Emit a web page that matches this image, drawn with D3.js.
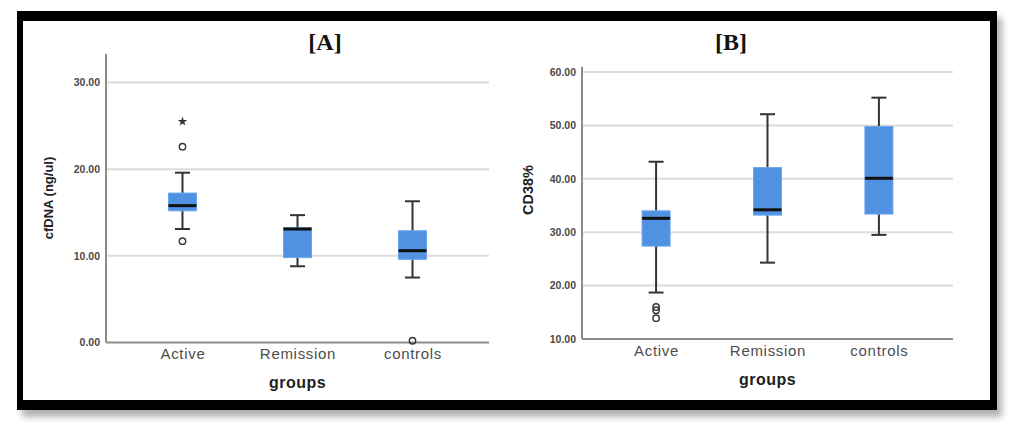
<!DOCTYPE html>
<html>

<head>
    <meta charset='utf-8'>
    <title>cfDNA and CD38% by group</title>
    <script src='https://d3js.org/d3.v7.min.js'></script>
    <style>
        body { margin: 0; background: #fff; }
    </style>
</head>

<body>
    <script>
        // groups on the x axis (same for both panels)
        const groups = ['Active', 'Remission', 'controls'];

        // [A] cfDNA (ng/ul): lower whisker, Q1, median, Q3, upper whisker
        const cfdnaBoxes = [
            [13.1, 15.2, 15.8, 17.25, 19.6],
            [8.8, 9.8, 13.1, 13.25, 14.7],
            [7.5, 9.6, 10.6, 12.9, 16.3]
        ];
        const cfdnaOutliers = [[22.6, 11.7], [], [0.2]];
        const cfdnaExtremes = [[25.5], [], []];
        const cfdnaTicks = [0, 10, 20, 30];

        // [B] CD38%
        const cd38Boxes = [
            [18.7, 27.4, 32.6, 34.0, 43.2],
            [24.3, 33.2, 34.2, 42.1, 52.1],
            [29.5, 33.4, 40.1, 49.8, 55.2]
        ];
        const cd38Outliers = [[16.0, 15.4, 13.9], [], []];
        const cd38Extremes = [[], [], []];
        const cd38Ticks = [10, 20, 30, 40, 50, 60];

        const W = 1024, H = 442;

        const svg = d3.select('body')
            .append('svg')
            .attr('width', W)
            .attr('height', H);

        // soft shadow under the frame
        const defs = svg.append('defs');
        const f = defs.append('filter')
            .attr('id', 'shadow')
            .attr('x', '-5%').attr('y', '-5%')
            .attr('width', '115%').attr('height', '120%');
        f.append('feDropShadow')
            .attr('dx', 5).attr('dy', 7)
            .attr('stdDeviation', 3)
            .attr('flood-color', '#000')
            .attr('flood-opacity', 0.3);

        // black frame
        svg.append('rect')
            .attr('x', 17).attr('y', 11)
            .attr('width', 980).attr('height', 399)
            .attr('fill', '#000')
            .attr('filter', 'url(#shadow)');
        svg.append('rect')
            .attr('x', 23).attr('y', 21)
            .attr('width', 967).attr('height', 379)
            .attr('fill', '#fff');

        function drawPanel(opt) {
            const g = svg.append('g');

            const x = d3.scalePoint()
                .domain(groups)
                .range([opt.left, opt.right])
                .padding(0.665);

            const y = d3.scaleLinear()
                .domain(opt.domain)
                .range([opt.bottom, opt.top]);

            // gridlines
            g.selectAll('.grid')
                .data(opt.ticks.filter(t => t !== opt.domain[0]))
                .enter()
                .append('line')
                .attr('class', 'grid')
                .attr('x1', opt.left)
                .attr('x2', opt.right)
                .attr('y1', d => y(d))
                .attr('y2', d => y(d))
                .attr('stroke', '#dcdcdc')
                .attr('stroke-width', 2);

            // y axis labels
            const ya = g.append('g')
                .attr('transform', 'translate(' + opt.left + ',0)')
                .call(d3.axisLeft(y).tickValues(opt.ticks).tickFormat(d3.format('.2f')).tickSize(0).tickPadding(6));
            ya.select('.domain').remove();
            ya.selectAll('text')
                .attr('font-family', 'Liberation Sans, Arial, sans-serif')
                .attr('font-size', '10.5px')
                .attr('font-weight', 'bold')
                .attr('fill', '#4a4a4a');

            // x axis labels
            const xa = g.append('g')
                .attr('transform', 'translate(0,' + opt.bottom + ')')
                .call(d3.axisBottom(x).tickSize(0).tickPadding(6));
            xa.select('.domain').remove();
            xa.selectAll('text')
                .attr('font-family', 'Liberation Sans, Arial, sans-serif')
                .attr('font-size', '15px')
                .attr('letter-spacing', '0.7px')
                .attr('fill', '#4d4d4d');

            // axis lines
            g.append('line')
                .attr('x1', opt.left).attr('x2', opt.left)
                .attr('y1', opt.axisTop).attr('y2', opt.bottom)
                .attr('stroke', '#8c8c8c').attr('stroke-width', 2);
            g.append('line')
                .attr('x1', opt.left).attr('x2', opt.right)
                .attr('y1', opt.bottom).attr('y2', opt.bottom)
                .attr('stroke', '#8c8c8c').attr('stroke-width', 2);

            const boxW = 28, capW = 15;

            opt.boxes.forEach((b, i) => {
                const cx = x(groups[i]);
                const bg = g.append('g');

                // whiskers
                bg.append('line')
                    .attr('x1', cx).attr('x2', cx)
                    .attr('y1', y(b[0])).attr('y2', y(b[4]))
                    .attr('stroke', '#333').attr('stroke-width', 2);
                [b[0], b[4]].forEach(v => {
                    bg.append('line')
                        .attr('x1', cx - capW / 2).attr('x2', cx + capW / 2)
                        .attr('y1', y(v)).attr('y2', y(v))
                        .attr('stroke', '#333').attr('stroke-width', 2);
                });

                // box
                bg.append('rect')
                    .attr('x', cx - boxW / 2)
                    .attr('y', y(b[3]))
                    .attr('width', boxW)
                    .attr('height', y(b[1]) - y(b[3]))
                    .attr('fill', '#5092e1')
                    .attr('stroke', '#6aa6ec')
                    .attr('stroke-width', 1);

                // median
                bg.append('line')
                    .attr('x1', cx - boxW / 2).attr('x2', cx + boxW / 2)
                    .attr('y1', y(b[2])).attr('y2', y(b[2]))
                    .attr('stroke', '#111').attr('stroke-width', 3);

                // outliers
                bg.selectAll('.out')
                    .data(opt.outliers[i])
                    .enter()
                    .append('circle')
                    .attr('class', 'out')
                    .attr('cx', cx)
                    .attr('cy', d => y(d))
                    .attr('r', 3.2)
                    .attr('fill', 'none')
                    .attr('stroke', '#333')
                    .attr('stroke-width', 1.4);

                // extremes
                bg.selectAll('.ext')
                    .data(opt.extremes[i])
                    .enter()
                    .append('path')
                    .attr('class', 'ext')
                    .attr('transform', d => 'translate(' + cx + ',' + y(d) + ')')
                    .attr('d', d3.symbol().type(d3.symbolStar).size(28))
                    .attr('fill', '#333');
            });

            // title
            g.append('text')
                .attr('x', opt.titleX)
                .attr('y', 50)
                .attr('text-anchor', 'middle')
                .attr('font-family', 'Liberation Serif, Times New Roman, serif')
                .attr('font-weight', 'bold')
                .attr('font-size', '24px')
                .attr('fill', '#111')
                .text(opt.title);

            // y label
            g.append('text')
                .attr('transform', 'translate(' + opt.yLabelX + ',' + opt.yLabelY + ') rotate(-90)')
                .attr('text-anchor', 'middle')
                .attr('font-family', 'Liberation Sans, Arial, sans-serif')
                .attr('font-weight', 'bold')
                .attr('font-size', opt.yLabelSize)
                .attr('fill', '#222')
                .text(opt.yLabel);

            // x label
            g.append('text')
                .attr('x', (opt.left + opt.right) / 2)
                .attr('y', opt.xLabelY)
                .attr('text-anchor', 'middle')
                .attr('font-family', 'Liberation Sans, Arial, sans-serif')
                .attr('font-weight', 'bold')
                .attr('font-size', '16px')
                .attr('letter-spacing', '0.5px')
                .attr('fill', '#222')
                .text('groups');
        }

        drawPanel({
            left: 106, right: 489, top: 54, axisTop: 54, bottom: 342.5,
            domain: [0, 33.3], ticks: cfdnaTicks,
            boxes: cfdnaBoxes, outliers: cfdnaOutliers, extremes: cfdnaExtremes,
            title: '[A]', titleX: 325,
            yLabel: 'cfDNA (ng/ul)', yLabelX: 53, yLabelY: 198, yLabelSize: '13px',
            xLabelY: 388
        });

        drawPanel({
            left: 582, right: 953, top: 66.7, axisTop: 66.7, bottom: 339,
            domain: [10, 61], ticks: cd38Ticks,
            boxes: cd38Boxes, outliers: cd38Outliers, extremes: cd38Extremes,
            title: '[B]', titleX: 731,
            yLabel: 'CD38%', yLabelX: 533, yLabelY: 190, yLabelSize: '14.5px',
            xLabelY: 385
        });
    </script>
</body>

</html>
